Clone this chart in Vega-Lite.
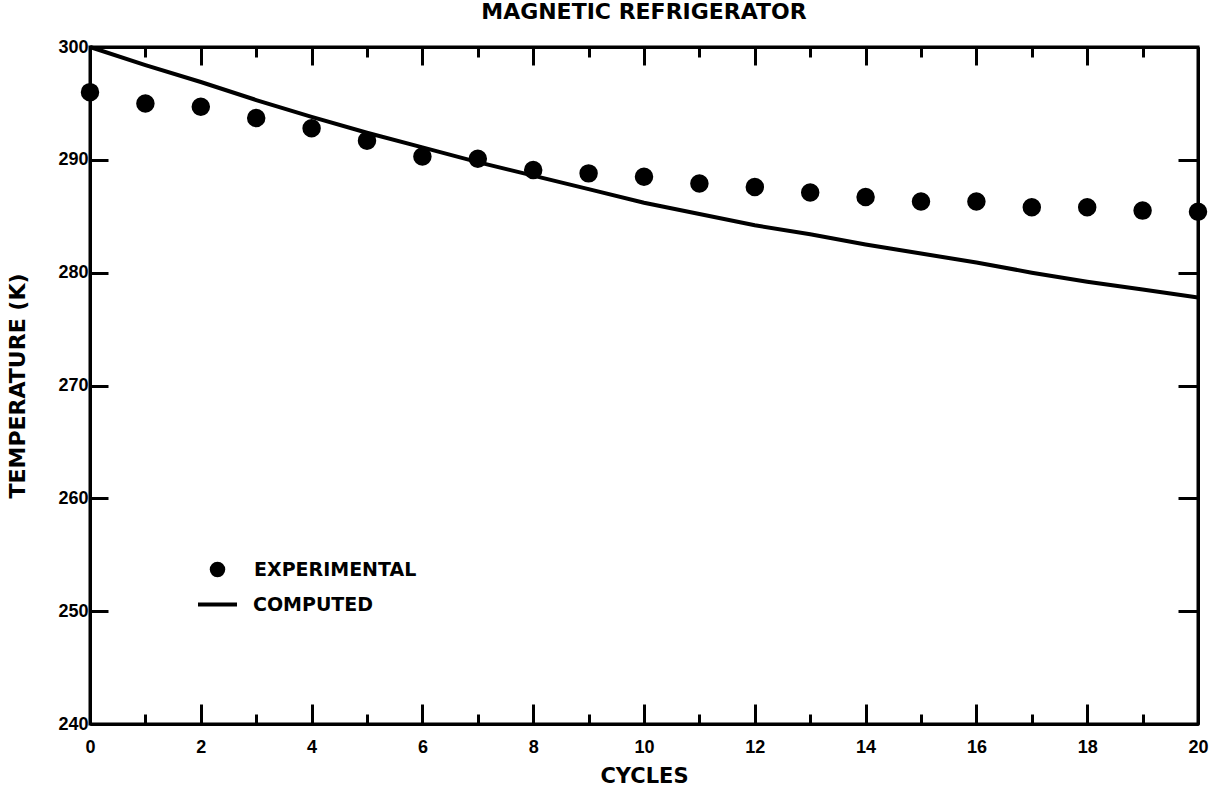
{
  "$schema": "https://vega.github.io/schema/vega-lite/v6.json",
  "width": 1108,
  "height": 677,
  "autosize": {"type": "none"},
  "padding": {"left": 90, "top": 47, "right": 13, "bottom": 63},
  "background": "white",
  "title": {"text": "MAGNETIC REFRIGERATOR", "font": "DejaVu Sans", "fontWeight": "bold", "fontSize": 22, "color": "black", "anchor": "middle", "offset": 14},
  "config": {
    "view": {"stroke": "black", "strokeWidth": 3},
    "axis": {"grid": false, "domainColor": "black", "domainWidth": 3, "tickColor": "black", "tickWidth": 3, "labelFont": "Liberation Sans", "labelFontWeight": "bold", "labelFontSize": 18, "labelColor": "black", "titleFont": "DejaVu Sans", "titleFontWeight": "bold", "titleFontSize": 21, "titleColor": "black", "labelFlush": false, "labelOverlap": false},
    "legend": {"labelFont": "DejaVu Sans", "labelFontWeight": "bold", "labelFontSize": 19, "labelColor": "black", "labelLimit": 400}
  },
  "datasets": {
    "experimental": [
      {"cycle": 0, "temp": 296.0, "series": "EXPERIMENTAL"},
      {"cycle": 1, "temp": 295.0, "series": "EXPERIMENTAL"},
      {"cycle": 2, "temp": 294.7, "series": "EXPERIMENTAL"},
      {"cycle": 3, "temp": 293.7, "series": "EXPERIMENTAL"},
      {"cycle": 4, "temp": 292.8, "series": "EXPERIMENTAL"},
      {"cycle": 5, "temp": 291.7, "series": "EXPERIMENTAL"},
      {"cycle": 6, "temp": 290.3, "series": "EXPERIMENTAL"},
      {"cycle": 7, "temp": 290.1, "series": "EXPERIMENTAL"},
      {"cycle": 8, "temp": 289.1, "series": "EXPERIMENTAL"},
      {"cycle": 9, "temp": 288.8, "series": "EXPERIMENTAL"},
      {"cycle": 10, "temp": 288.5, "series": "EXPERIMENTAL"},
      {"cycle": 11, "temp": 287.9, "series": "EXPERIMENTAL"},
      {"cycle": 12, "temp": 287.6, "series": "EXPERIMENTAL"},
      {"cycle": 13, "temp": 287.1, "series": "EXPERIMENTAL"},
      {"cycle": 14, "temp": 286.7, "series": "EXPERIMENTAL"},
      {"cycle": 15, "temp": 286.3, "series": "EXPERIMENTAL"},
      {"cycle": 16, "temp": 286.3, "series": "EXPERIMENTAL"},
      {"cycle": 17, "temp": 285.8, "series": "EXPERIMENTAL"},
      {"cycle": 18, "temp": 285.8, "series": "EXPERIMENTAL"},
      {"cycle": 19, "temp": 285.5, "series": "EXPERIMENTAL"},
      {"cycle": 20, "temp": 285.4, "series": "EXPERIMENTAL"}
    ],
    "computed": [
      {"cycle": 0, "temp": 300.0, "series": "COMPUTED"},
      {"cycle": 1, "temp": 298.4, "series": "COMPUTED"},
      {"cycle": 2, "temp": 296.9, "series": "COMPUTED"},
      {"cycle": 3, "temp": 295.3, "series": "COMPUTED"},
      {"cycle": 4, "temp": 293.8, "series": "COMPUTED"},
      {"cycle": 5, "temp": 292.4, "series": "COMPUTED"},
      {"cycle": 6, "temp": 291.1, "series": "COMPUTED"},
      {"cycle": 7, "temp": 289.8, "series": "COMPUTED"},
      {"cycle": 8, "temp": 288.6, "series": "COMPUTED"},
      {"cycle": 9, "temp": 287.4, "series": "COMPUTED"},
      {"cycle": 10, "temp": 286.2, "series": "COMPUTED"},
      {"cycle": 11, "temp": 285.2, "series": "COMPUTED"},
      {"cycle": 12, "temp": 284.2, "series": "COMPUTED"},
      {"cycle": 13, "temp": 283.4, "series": "COMPUTED"},
      {"cycle": 14, "temp": 282.5, "series": "COMPUTED"},
      {"cycle": 15, "temp": 281.7, "series": "COMPUTED"},
      {"cycle": 16, "temp": 280.9, "series": "COMPUTED"},
      {"cycle": 17, "temp": 280.0, "series": "COMPUTED"},
      {"cycle": 18, "temp": 279.2, "series": "COMPUTED"},
      {"cycle": 19, "temp": 278.5, "series": "COMPUTED"},
      {"cycle": 20, "temp": 277.8, "series": "COMPUTED"}
    ]
  },
  "resolve": {"axis": {"x": "independent", "y": "independent"}},
  "layer": [
    {
      "data": {"name": "computed"},
      "mark": {"type": "line", "strokeWidth": 4, "clip": false},
      "encoding": {
        "x": {"field": "cycle", "type": "quantitative", "scale": {"domain": [0, 20], "nice": false},
          "axis": {"orient": "top", "title": null, "labels": false, "values": [0,1,2,3,4,5,6,7,8,9,10,11,12,13,14,15,16,17,18,19,20],
            "tickSize": {"condition": {"test": "datum.value % 2 === 0", "value": -18}, "value": -10}}},
        "y": {"field": "temp", "type": "quantitative", "scale": {"domain": [240, 300], "nice": false, "zero": false},
          "axis": {"orient": "right", "title": null, "labels": false, "values": [240, 250, 260, 270, 280, 290, 300], "tickSize": -20}},
        "color": {"field": "series", "type": "nominal", "scale": {"domain": ["COMPUTED"], "range": ["black"]},
          "legend": {"title": null, "orient": "none", "legendX": 106, "legendY": 536, "padding": 0, "symbolType": "stroke", "symbolSize": 1521, "symbolStrokeWidth": 4, "symbolStrokeColor": "black", "labelOffset": 14}}
      }
    },
    {
      "data": {"name": "experimental"},
      "mark": {"type": "point", "filled": true, "fill": "black", "stroke": "black", "strokeWidth": 3, "opacity": 1, "size": 240},
      "encoding": {
        "x": {"field": "cycle", "type": "quantitative", "scale": {"domain": [0, 20], "nice": false},
          "axis": {"orient": "bottom", "title": "CYCLES", "titlePadding": -1, "values": [0,1,2,3,4,5,6,7,8,9,10,11,12,13,14,15,16,17,18,19,20],
            "labelExpr": "datum.value % 2 === 0 ? datum.label : ''",
            "tickSize": {"condition": {"test": "datum.value % 2 === 0", "value": -20}, "value": -10}, "labelPadding": 34}},
        "y": {"field": "temp", "type": "quantitative", "scale": {"domain": [240, 300], "nice": false, "zero": false},
          "axis": {"orient": "left", "title": "TEMPERATURE (K)", "titleFontSize": 22, "titlePadding": 28, "values": [240, 250, 260, 270, 280, 290, 300], "tickSize": -18, "labelPadding": 20}},
        "shape": {"field": "series", "type": "nominal",
          "scale": {"domain": ["EXPERIMENTAL"], "range": ["circle"]},
          "legend": {"title": null, "orient": "none", "legendX": 118, "legendY": 513, "padding": 0, "symbolSize": 240, "labelOffset": 27,
            "symbolFillColor": "black", "symbolStrokeColor": "black"}}
      }
    }
  ]
}
